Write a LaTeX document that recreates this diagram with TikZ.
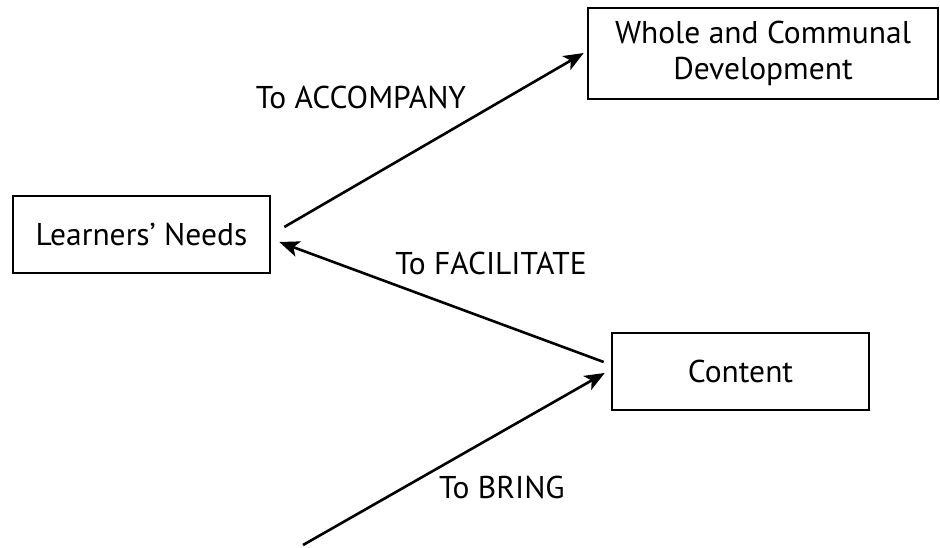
\documentclass[tikz,border=0pt]{standalone}
\usepackage{fontspec}
\setmainfont{PT Sans}
\usetikzlibrary{arrows.meta}
\tikzset{
  box/.style={draw, line width=2.6pt, inner sep=0pt, align=center, font=\fontsize{31.5}{36}\selectfont},
  lbl/.style={inner sep=0pt, font=\fontsize{31.5}{36}\selectfont},
  conn/.style={line width=2.6pt, -{Stealth[length=20pt,width=16pt,inset=5pt]}}
}
\begin{document}
\begin{tikzpicture}[x=1pt,y=-1pt]
\useasboundingbox (0,0) rectangle (940,548);
\node[box, minimum width=257pt, minimum height=77pt] (L) at (141.5,234.5) {Learners’ Needs};
\node[box, minimum width=350pt, minimum height=91pt] (W) at (763,53.5) {Whole and Communal\\Development};
\node[box, minimum width=257pt, minimum height=77pt] (C) at (740.5,371.5) {Content};
\coordinate (B) at (303,545);
\draw[conn] ([xshift=13pt,yshift=7.5pt]L.east) -- ([xshift=-3pt,yshift=0.5pt]W.west);
\draw[conn] ([xshift=-7pt,yshift=9.5pt]C.west) -- ([xshift=8pt,yshift=-7.5pt]L.east);
\draw[conn] (B) -- ([xshift=-6pt,yshift=-1.5pt]C.west);
\node[lbl] (t1) at (361,97) {To ACCOMPANY};
\node[lbl] (t2) at (491,263) {To FACILITATE};
\node[lbl] (t3) at (502,487) {To BRING};
\end{tikzpicture}
\end{document}
